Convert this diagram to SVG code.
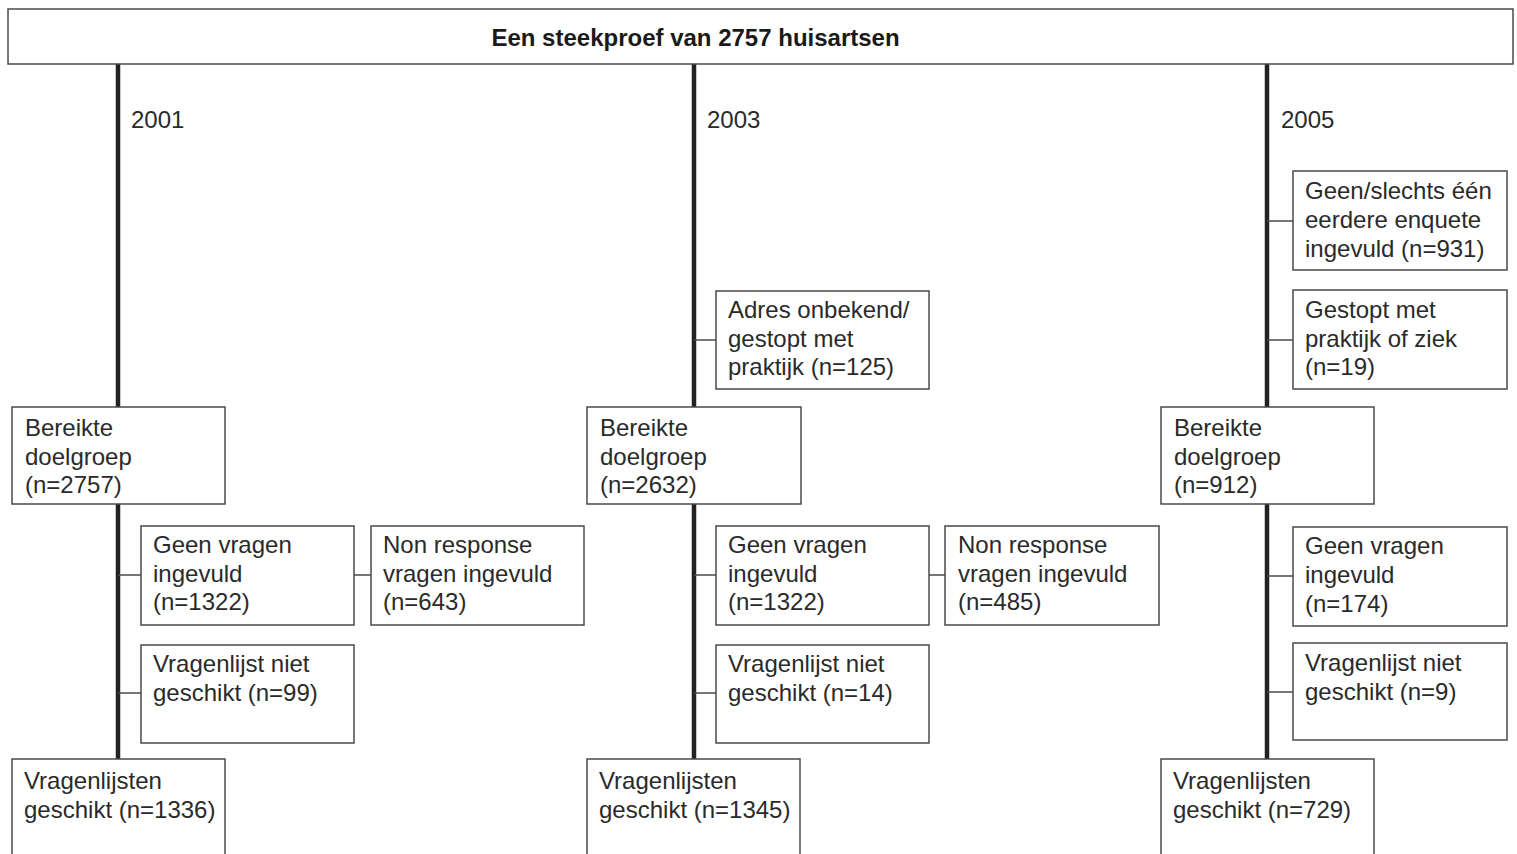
<svg xmlns="http://www.w3.org/2000/svg" width="1517" height="854" viewBox="0 0 1517 854">
<style>
.box{fill:#fff;stroke:#4a4a4a;stroke-width:1.5}
.t{font-family:"Liberation Sans",Arial,sans-serif;font-size:24px;fill:#2a2a2a}
.title{font-family:"Liberation Sans",Arial,sans-serif;font-size:24px;font-weight:bold;fill:#1a1a1a;text-anchor:middle}
.spine{stroke:#222;stroke-width:4.5;fill:none}
.c{stroke:#4a4a4a;stroke-width:1.5;fill:none}
</style>
<rect width="1517" height="854" fill="#fff"/>
<g id="connectors">
<line class="spine" x1="118" y1="64" x2="118" y2="854"/>
<line class="spine" x1="694" y1="64" x2="694" y2="854"/>
<line class="spine" x1="1267" y1="64" x2="1267" y2="854"/>
<line class="c" x1="118" y1="575" x2="141" y2="575"/>
<line class="c" x1="354" y1="575" x2="371" y2="575"/>
<line class="c" x1="118" y1="693" x2="141" y2="693"/>
<line class="c" x1="694" y1="340" x2="716" y2="340"/>
<line class="c" x1="694" y1="575" x2="716" y2="575"/>
<line class="c" x1="929" y1="575" x2="945" y2="575"/>
<line class="c" x1="694" y1="693" x2="716" y2="693"/>
<line class="c" x1="1267" y1="221" x2="1293" y2="221"/>
<line class="c" x1="1267" y1="340" x2="1293" y2="340"/>
<line class="c" x1="1267" y1="576" x2="1293" y2="576"/>
<line class="c" x1="1267" y1="692" x2="1293" y2="692"/>
</g>
<g id="title">
<rect class="box" x="8" y="9" width="1505" height="55"/>
<text class="title" x="695.5" y="46">Een steekproef van 2757 huisartsen</text>
</g>
<g id="years">
<text class="t" x="131" y="128">2001</text>
<text class="t" x="707" y="128">2003</text>
<text class="t" x="1281" y="128">2005</text>
</g>
<g id="n2001-bereikt">
<rect class="box" x="12" y="407" width="213" height="97"/>
<text class="t" x="25" y="436">Bereikte</text>
<text class="t" x="25" y="464.5">doelgroep</text>
<text class="t" x="25" y="493">(n=2757)</text>
</g>
<g id="n2001-geen">
<rect class="box" x="141" y="526" width="213" height="99"/>
<text class="t" x="153" y="553">Geen vragen</text>
<text class="t" x="153" y="581.5">ingevuld</text>
<text class="t" x="153" y="610">(n=1322)</text>
</g>
<g id="n2001-nonresp">
<rect class="box" x="371" y="526" width="213" height="99"/>
<text class="t" x="383" y="553">Non response</text>
<text class="t" x="383" y="581.5">vragen ingevuld</text>
<text class="t" x="383" y="610">(n=643)</text>
</g>
<g id="n2001-niet">
<rect class="box" x="141" y="645" width="213" height="98"/>
<text class="t" x="153" y="672">Vragenlijst niet</text>
<text class="t" x="153" y="700.5">geschikt (n=99)</text>
</g>
<g id="n2001-geschikt">
<rect class="box" x="12" y="759" width="213" height="100"/>
<text class="t" x="24" y="789">Vragenlijsten</text>
<text class="t" x="24" y="817.5">geschikt (n=1336)</text>
</g>
<g id="n2003-adres">
<rect class="box" x="716" y="291" width="213" height="98"/>
<text class="t" x="728" y="318">Adres onbekend/</text>
<text class="t" x="728" y="346.5">gestopt met</text>
<text class="t" x="728" y="375">praktijk (n=125)</text>
</g>
<g id="n2003-bereikt">
<rect class="box" x="587" y="407" width="214" height="97"/>
<text class="t" x="600" y="436">Bereikte</text>
<text class="t" x="600" y="464.5">doelgroep</text>
<text class="t" x="600" y="493">(n=2632)</text>
</g>
<g id="n2003-geen">
<rect class="box" x="716" y="526" width="213" height="99"/>
<text class="t" x="728" y="553">Geen vragen</text>
<text class="t" x="728" y="581.5">ingevuld</text>
<text class="t" x="728" y="610">(n=1322)</text>
</g>
<g id="n2003-nonresp">
<rect class="box" x="945" y="526" width="214" height="99"/>
<text class="t" x="958" y="553">Non response</text>
<text class="t" x="958" y="581.5">vragen ingevuld</text>
<text class="t" x="958" y="610">(n=485)</text>
</g>
<g id="n2003-niet">
<rect class="box" x="716" y="645" width="213" height="98"/>
<text class="t" x="728" y="672">Vragenlijst niet</text>
<text class="t" x="728" y="700.5">geschikt (n=14)</text>
</g>
<g id="n2003-geschikt">
<rect class="box" x="587" y="759" width="213" height="100"/>
<text class="t" x="599" y="789">Vragenlijsten</text>
<text class="t" x="599" y="817.5">geschikt (n=1345)</text>
</g>
<g id="n2005-geen-eerder">
<rect class="box" x="1293" y="171" width="214" height="99"/>
<text class="t" x="1305" y="198.5">Geen/slechts één</text>
<text class="t" x="1305" y="227.5">eerdere enquete</text>
<text class="t" x="1305" y="256.5">ingevuld (n=931)</text>
</g>
<g id="n2005-gestopt">
<rect class="box" x="1293" y="290" width="214" height="99"/>
<text class="t" x="1305" y="317.5">Gestopt met</text>
<text class="t" x="1305" y="346.5">praktijk of ziek</text>
<text class="t" x="1305" y="375">(n=19)</text>
</g>
<g id="n2005-bereikt">
<rect class="box" x="1161" y="407" width="213" height="97"/>
<text class="t" x="1174" y="436">Bereikte</text>
<text class="t" x="1174" y="464.5">doelgroep</text>
<text class="t" x="1174" y="493">(n=912)</text>
</g>
<g id="n2005-geen">
<rect class="box" x="1293" y="527" width="214" height="99"/>
<text class="t" x="1305" y="554">Geen vragen</text>
<text class="t" x="1305" y="583">ingevuld</text>
<text class="t" x="1305" y="612">(n=174)</text>
</g>
<g id="n2005-niet">
<rect class="box" x="1293" y="643" width="214" height="97"/>
<text class="t" x="1305" y="671">Vragenlijst niet</text>
<text class="t" x="1305" y="700">geschikt (n=9)</text>
</g>
<g id="n2005-geschikt">
<rect class="box" x="1161" y="759" width="213" height="100"/>
<text class="t" x="1173" y="789">Vragenlijsten</text>
<text class="t" x="1173" y="817.5">geschikt (n=729)</text>
</g>
</svg>
